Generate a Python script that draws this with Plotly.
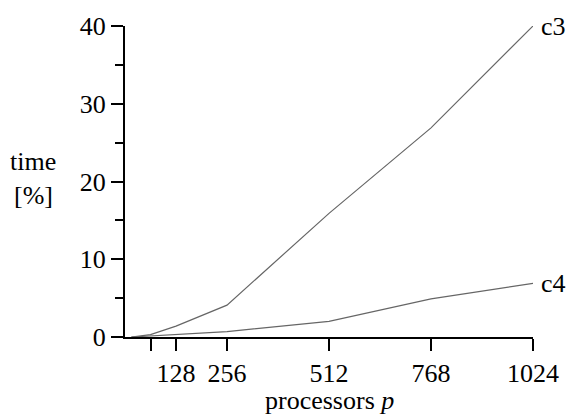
import plotly.graph_objects as go

procs = [16, 32, 64, 128, 256, 512, 768, 1024]
c3 = [0.0, 0.1, 0.3, 1.4, 4.1, 15.9, 26.9, 40.0]
c4 = [0.0, 0.05, 0.15, 0.3, 0.7, 2.0, 4.9, 6.9]
x_ticks = [64, 128, 256, 512, 768, 1024]
x_ticklabels = ["", "128", "256", "512", "768", "1024"]
y_ticks = [0, 10, 20, 30, 40]
y_minor = [5, 15, 25, 35]

FONT = "Liberation Serif, serif"
FS = 26
line_color = "#666666"

fig = go.Figure()
fig.add_trace(go.Scatter(x=procs, y=c3, mode="lines", line=dict(color=line_color, width=1.2), cliponaxis=False, showlegend=False))
fig.add_trace(go.Scatter(x=procs, y=c4, mode="lines", line=dict(color=line_color, width=1.2), cliponaxis=False, showlegend=False))

fig.add_annotation(x=1024, y=c3[-1], text="c3", showarrow=False, xanchor="left", xshift=6, font=dict(family=FONT, size=FS, color="black"))
fig.add_annotation(x=1024, y=c4[-1], text="c4", showarrow=False, xanchor="left", xshift=6, font=dict(family=FONT, size=FS, color="black"))
fig.add_annotation(x=-0.225, y=0.565, xref="paper", yref="paper", text="time", showarrow=False, xanchor="center", yanchor="middle", font=dict(family=FONT, size=FS, color="black"))
fig.add_annotation(x=-0.225, y=0.455, xref="paper", yref="paper", text="[%]", showarrow=False, xanchor="center", yanchor="middle", font=dict(family=FONT, size=FS, color="black"))
fig.add_annotation(x=0.5, y=-0.203, xref="paper", yref="paper", text="processors <i>p</i>", showarrow=False, xanchor="center", yanchor="middle", font=dict(family=FONT, size=FS, color="black"))

fig.update_layout(
    width=571, height=417,
    margin=dict(l=125, r=37, t=18, b=80),
    paper_bgcolor="white", plot_bgcolor="white",
    font=dict(family=FONT, size=FS, color="black"),
    xaxis=dict(range=[0, 1024], tickvals=x_ticks, ticktext=x_ticklabels, ticks="outside", ticklen=12, tickwidth=2,
               tickcolor="black", showline=True, linecolor="black", linewidth=2, showgrid=False, zeroline=False,
               tickfont=dict(family=FONT, size=FS)),
    yaxis=dict(range=[0, 40], tickvals=y_ticks, ticks="outside", ticklen=12, tickwidth=2, tickcolor="black",
               showline=True, linecolor="black", linewidth=2, showgrid=False, zeroline=False,
               tickfont=dict(family=FONT, size=FS),
               minor=dict(tickvals=y_minor, ticks="outside", ticklen=8, tickwidth=2, tickcolor="black", showgrid=False)),
)

fig.write_html("out.html")
